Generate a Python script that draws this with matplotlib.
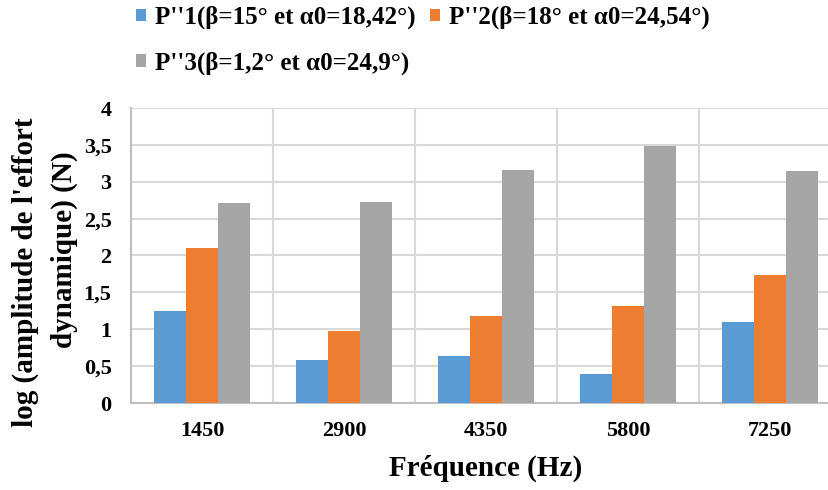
import numpy as np
import matplotlib
matplotlib.use("Agg")
import matplotlib.pyplot as plt
from matplotlib.ticker import FuncFormatter

# données
frequences = ['1450', '2900', '4350', '5800', '7250']
p1 = [1.25, 0.58, 0.64, 0.39, 1.10]
p2 = [2.10, 0.97, 1.18, 1.31, 1.73]
p3 = [2.71, 2.72, 3.16, 3.48, 3.15]
labels = ["P''1(β=15° et α0=18,42°)",
          "P''2(β=18° et α0=24,54°)",
          "P''3(β=1,2° et α0=24,9°)"]
couleurs = ['#5B9BD5', '#ED7D31', '#A5A5A5']

plt.rcParams['font.family'] = ['Liberation Serif', 'DejaVu Serif']
plt.rcParams['font.weight'] = 'bold'

fig = plt.figure(figsize=(8.29, 4.90), dpi=100)
ax = fig.add_axes([131/829, 1 - 403/490, 710/829, 295/490])

x = np.arange(len(frequences))
w = 0.225
bars = []
for i, (vals, c, lab) in enumerate(zip([p1, p2, p3], couleurs, labels)):
    b = ax.bar(x + (i - 1) * w, vals, w, color=c, label=lab, zorder=3)
    bars.append(b)

ax.set_xlim(-0.5, 4.5)
ax.set_ylim(0, 4)
ax.set_yticks(np.arange(0, 4.01, 0.5))
ax.yaxis.set_major_formatter(FuncFormatter(lambda v, p: ('%g' % v).replace('.', ',')))
ax.set_xticks(x)
ax.set_xticklabels(frequences)
ax.set_xticks(np.arange(-0.5, 5, 1), minor=True)

ax.grid(True, axis='y', color='#D9D9D9', linewidth=1.5, zorder=0)
ax.grid(True, axis='x', which='minor', color='#D9D9D9', linewidth=1.5, zorder=0)
ax.tick_params(axis='both', which='both', length=0, labelsize=16)
ax.tick_params(axis='x', pad=13)
ax.tick_params(axis='y', pad=14)
for s in ['top', 'right']:
    ax.spines[s].set_visible(False)
for s in ['left', 'bottom']:
    ax.spines[s].set_color('#BFBFBF')
    ax.spines[s].set_linewidth(1.5)

ax.set_xlabel('Fréquence (Hz)', fontsize=21, fontweight='bold', labelpad=10)

# titre de l'axe y sur deux lignes
fig.text(25/829, 1 - 272/490, "log (amplitude de l'effort", rotation=90,
         fontsize=21, fontweight='bold', ha='center', va='center')
fig.text(64/829, 1 - 250/490, "dynamique) (N)", rotation=90,
         fontsize=21, fontweight='bold', ha='center', va='center')

# légende sur deux lignes
handles = [bars[0], bars[2], bars[1]]
leg_labels = [labels[0], labels[2], labels[1]]
fig.legend(handles, leg_labels, ncol=2, loc='upper left',
           bbox_to_anchor=(136/829, 1 - 6/490), frameon=False, fontsize=18,
           handlelength=0.4, handleheight=0.4, handletextpad=0.35,
           columnspacing=0.6, labelspacing=0.88, borderpad=0, borderaxespad=0)

plt.savefig('out.png', dpi=100)
